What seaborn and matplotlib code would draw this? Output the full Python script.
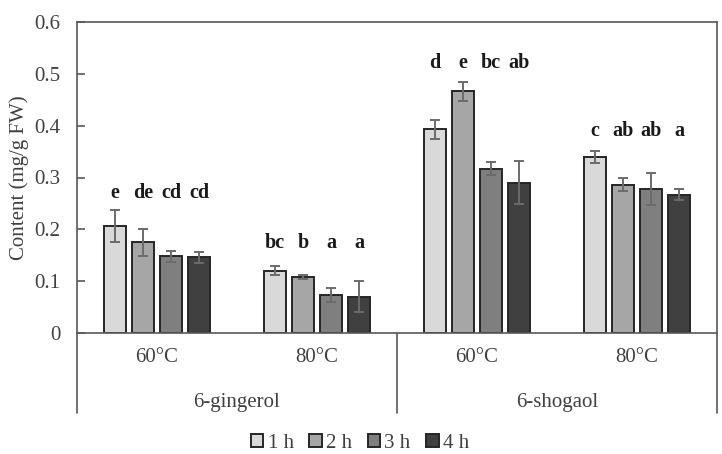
import numpy as np
import pandas as pd
import seaborn as sns
import matplotlib.pyplot as plt
import matplotlib.transforms as mtransforms
from matplotlib.lines import Line2D

# ---------------- data ----------------
compounds = ['6-gingerol', '6-gingerol', '6-shogaol', '6-shogaol']
temps = ['60°C', '80°C', '60°C', '80°C']
times = ['1 h', '2 h', '3 h', '4 h']

mean_1h = [0.206, 0.120, 0.393, 0.340]
mean_2h = [0.175, 0.108, 0.466, 0.286]
mean_3h = [0.148, 0.073, 0.317, 0.278]
mean_4h = [0.146, 0.070, 0.290, 0.267]

err_1h = [0.031, 0.009, 0.018, 0.012]
err_2h = [0.026, 0.004, 0.018, 0.013]
err_3h = [0.011, 0.013, 0.013, 0.031]
err_4h = [0.010, 0.030, 0.042, 0.011]

let_1h = ['e', 'bc', 'd', 'c']
let_2h = ['de', 'b', 'e', 'ab']
let_3h = ['cd', 'a', 'bc', 'ab']
let_4h = ['cd', 'a', 'ab', 'a']

letter_y = [0.270, 0.174, 0.520, 0.390]

y_ticks = [0, 0.1, 0.2, 0.3, 0.4, 0.5, 0.6]
y_tick_labels = ['0', '0.1', '0.2', '0.3', '0.4', '0.5', '0.6']

colors = ['#d9d9d9', '#a6a6a6', '#7f7f7f', '#404040']

# ---------------- build table ----------------
means = [mean_1h, mean_2h, mean_3h, mean_4h]
errs = [err_1h, err_2h, err_3h, err_4h]
lets = [let_1h, let_2h, let_3h, let_4h]
group_keys = [f'{c} {t}' for c, t in zip(compounds, temps)]

rows = []
for t, m, e, l in zip(times, means, errs, lets):
    for g, mv, ev, lv in zip(group_keys, m, e, l):
        rows.append({'group': g, 'time': t, 'content': mv, 'err': ev, 'letter': lv})
df = pd.DataFrame(rows)

# ---------------- plot ----------------
sns.set_theme(style='white')
plt.rcParams['font.family'] = ['Liberation Serif', 'DejaVu Serif']

text_col = '#404040'
axis_col = '#595959'

fig = plt.figure(figsize=(7.22, 4.54), dpi=100)
ax = fig.add_axes([77 / 722, 1 - 333 / 454, 640 / 722, 311 / 454])

sns.barplot(data=df, x='group', y='content', hue='time', order=group_keys,
            hue_order=times, palette=colors, saturation=1, width=0.7, gap=0.2,
            edgecolor='#262626', linewidth=1.4, errorbar=None, ax=ax)

# error bars and letters from bar geometry
for cont, t in zip(ax.containers, times):
    sub = df[df['time'] == t].set_index('group').loc[group_keys]
    for bar, (g, r) in zip(cont, sub.iterrows()):
        xc = bar.get_x() + bar.get_width() / 2
        ax.errorbar(xc, r['content'], yerr=r['err'], fmt='none', ecolor='#6b6b6b',
                    elinewidth=1.4, capsize=3.5, capthick=1.4, zorder=5)
        gi = group_keys.index(g)
        ax.text(xc, letter_y[gi], r['letter'], ha='center', va='center',
                fontsize=14.5, fontweight='bold', color='#1a1a1a')

ax.set_ylim(0, 0.6)
ax.set_xlim(-0.5, 3.5)
ax.set_yticks(y_ticks)
ax.set_yticklabels(y_tick_labels)
ax.set_xticks(range(len(group_keys)))
ax.set_xticklabels(temps)
ax.set_xlabel('')
ax.set_ylabel('Content (mg/g FW)', fontsize=15, color=text_col, labelpad=4)

for s in ax.spines.values():
    s.set_visible(True)
    s.set_color(axis_col)
    s.set_linewidth(1.2)

ax.tick_params(axis='y', direction='in', length=6, width=1.2, color=axis_col,
               labelsize=15, labelcolor=text_col, pad=12, left=True)
ax.tick_params(axis='x', length=0, labelsize=15, labelcolor=text_col, pad=11)

# compound group labels & separators
trans = mtransforms.blended_transform_factory(ax.transData, ax.transAxes)
for c in dict.fromkeys(compounds):
    idx = [i for i, cc in enumerate(compounds) if cc == c]
    ax.text(np.mean(idx), -0.222, c, transform=trans, ha='center', va='center',
            fontsize=15, color=text_col)
for xa in [0, 0.5, 1]:
    ax.add_line(Line2D([xa, xa], [0, -0.257], transform=ax.transAxes,
                       color=axis_col, lw=1.2, clip_on=False))

# legend
handles, labels = ax.get_legend_handles_labels()
if ax.get_legend() is not None:
    ax.get_legend().remove()
leg = fig.legend(handles, labels, loc='center', bbox_to_anchor=(360 / 722, 1 - 443 / 454),
                 ncol=4, frameon=False, fontsize=15, handlelength=0.6, handleheight=0.6,
                 handletextpad=0.2, columnspacing=0.75, borderaxespad=0)
for txt in leg.get_texts():
    txt.set_color(text_col)

fig.savefig('out.png', dpi=100)
